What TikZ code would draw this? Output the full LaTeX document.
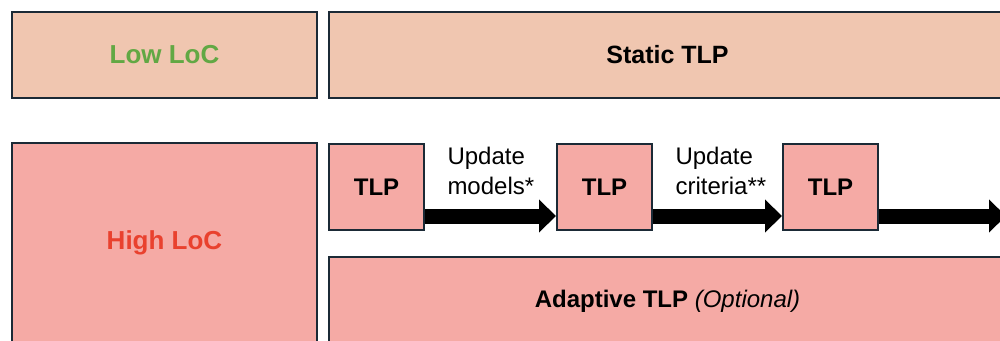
\documentclass[tikz,border=0pt]{standalone}
\usepackage{fontspec}
\setmainfont{Liberation Sans}
\usetikzlibrary{arrows.meta}
\definecolor{peach}{HTML}{F0C6B0}
\definecolor{salmon}{HTML}{F5AAA5}
\definecolor{edge}{HTML}{1B2A36}
\definecolor{locgreen}{HTML}{62A844}
\definecolor{locred}{HTML}{E9412E}

\begin{document}
\begin{tikzpicture}[x=1pt,y=-1pt,font=\fontsize{24}{30}\selectfont,
  box/.style={draw=edge,line width=2pt,inner sep=0pt,anchor=north west},
  tlpbox/.style={box,fill=salmon,minimum width=95pt,minimum height=86pt,font=\fontsize{24}{30}\selectfont\bfseries},
  flow/.style={line width=15pt,-{Triangle[length=17pt,width=32pt]}},
  upd/.style={pos=0,anchor=south west,align=left,inner sep=0pt,xshift=15pt,yshift=14pt}]
\useasboundingbox (0,0) rectangle (1000,340);
\clip (0,0) rectangle (1000,340);
\node[box,fill=peach,minimum width=305pt,minimum height=86pt] (low) at (11,11) {\fontsize{26}{30}\selectfont\bfseries\color{locgreen}Low LoC};
\node[box,fill=peach,minimum width=677pt,minimum height=86pt] (static) at (328,11) {\fontsize{25}{30}\selectfont\bfseries Static TLP};
\node[box,fill=salmon,minimum width=305pt,minimum height=200pt] (high) at (11,142) {\fontsize{26}{30}\selectfont\bfseries\color{locred}High LoC};
\node[box,fill=salmon,minimum width=677pt,minimum height=88pt] (adapt) at (328,256) {\textbf{Adaptive TLP} \textit{(Optional)}};
\node[tlpbox] (t1) at (328,143) {TLP};
\node[tlpbox] (t2) at (556,143) {TLP};
\node[tlpbox] (t3) at (782,143) {TLP};
\coordinate (tail) at (1006,0);
\draw[flow] ([yshift=15pt]t1.south east) -- ([yshift=15pt]t2.south west)
  node[upd] {Update\\models*};
\draw[flow] ([yshift=15pt]t2.south east) -- ([yshift=15pt]t3.south west)
  node[upd] {Update\\criteria**};
\path ([yshift=15pt]t3.south east) coordinate (a3);
\draw[flow] (a3) -- (a3 -| tail);
\end{tikzpicture}
\end{document}
